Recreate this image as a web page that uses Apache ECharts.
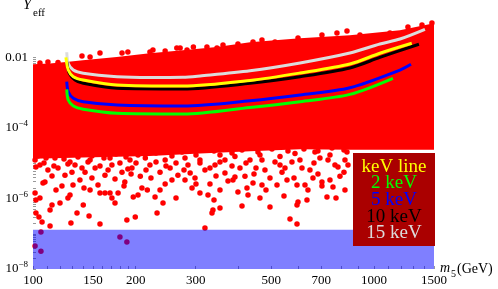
<!DOCTYPE html>
<html><head><meta charset="utf-8">
<script src="https://cdn.jsdelivr.net/npm/echarts@6/dist/echarts.min.js"></script>
<style>html,body{margin:0;padding:0;background:#fff}#c{width:498px;height:289px}</style>
</head><body><div id="c"></div>
<script>
// ---- axes ----
const xMin = 100, xMax = 1500, yMin = 1e-8, yMax = 0.2226;
const xLabelTicks = [100, 150, 200, 300, 500, 700, 1000, 1500];
const xMinorTicks = [110, 120, 130, 140, 160, 170, 180, 190, 400, 600, 800, 900, 1100, 1200, 1300, 1400];
const yLabelTicks = [1e-8, 1e-6, 1e-4, 1e-2];
const yMinorTicks = [];
for (let e = -8; e <= -3; e++) for (let k = 1; k <= 9; k++) yMinorTicks.push(k * Math.pow(10, e));
yMinorTicks.push(1e-2);

// ---- excluded band ----
const bandX = [100, 1500];
const bandLow = 1e-8, bandHigh = 1.3e-7;

// ---- dense scan region (boundary) ----
const denseTop = [[100,0.0064],[112,0.0068],[125,0.0074],[140,0.0084],[176,0.0104],[220,0.0132],[275,0.0160],[346,0.0198],[433,0.0270],[607,0.0350],[850,0.0430],[1192,0.0590],[1500,0.0930]];
const denseBottom = [[1500,2.4e-5],[850,2.4e-5],[607,2.5e-5],[433,2.2e-5],[309,1.9e-5],[220,1.6e-5],[140,1.45e-5],[100,1.35e-5]];

// ---- scan points ----
const edgeDots = [[104.8,0.0070],[110.6,0.0075],[118.4,0.0072],[139.2,0.0110],[147.0,0.0103],[157.2,0.0134],[182.4,0.0134],[189.8,0.0143],[220.3,0.0143],[224.8,0.0163],[244.1,0.0153],[264.1,0.0186],[270.1,0.0186],[282.9,0.0163],[295.4,0.0199],[323.7,0.0199],[346.4,0.0186],[360.8,0.0226],[399.1,0.0242],[441.8,0.0275],[469.4,0.0313],[512.6,0.0275],[598.7,0.0357],[703.9,0.0434],[778.9,0.0495],[833.4,0.0565],[909.9,0.0434],[1114,0.0495],[1258,0.0732],[1383,0.0836],[1479,0.0953]];
const fringeDots = [[101.4,1.24e-5],[116.0,1.41e-5],[128.4,1.09e-5],[147.0,1.24e-5],[168.2,1.41e-5],[192.5,1.24e-5],[213.5,1.41e-5],[244.1,1.24e-5],[279.1,1.41e-5],[308.8,1.24e-5],[353.5,1.71e-5],[391.1,1.56e-5],[463.1,1.71e-5],[530.2,1.56e-5],[586.7,1.89e-5],[671.4,2.08e-5],[743.0,1.71e-5],[833.4,2.08e-5],
[104.8,8.9e-6],[110.6,6.4e-6],[118.4,7.3e-6],[124.1,4.6e-6],[132.8,8.9e-6],[142.1,5.6e-6],[152.1,7.3e-6],[162.6,4.6e-6],[170.4,8.9e-6],[182.4,5.6e-6],[195.1,7.3e-6],[206.4,4.3e-6],[220.3,8.9e-6],[235.8,5.6e-6],[252.4,7.3e-6],[266.1,4.6e-6],[284.8,8.9e-6],[298.6,3.8e-6],[319.4,6.4e-6],[341.8,8.9e-6],[365.6,1.24e-5],[404.6,7.3e-6],[432.9,1.24e-5],[479.0,6.4e-6],[512.6,1.09e-5],[548.3,7.3e-6],[606.7,1.24e-5],[649.1,6.4e-6],[694.4,1.41e-5],[768.5,8.9e-6],[822.2,1.24e-5],
[108.4,2.95e-6],[121.6,2.27e-6],[137.3,3.35e-6],[155.1,2.42e-6],[185.9,2.95e-6],[208.7,1.99e-6],[244.1,2.58e-6],[279.1,3.35e-6],[292.7,1.99e-6],[330.4,2.58e-6],[418.5,4.3e-6],[495.5,3.8e-6],[627.6,2.42e-6],[703.9,2.95e-6],[794.8,4.3e-6]];
const transitionDots = [[103.4,1.61e-5],[109.2,1.41e-5],[116.8,1.71e-5],[123.3,1.32e-5],[135.5,1.5e-5],[148.9,1.61e-5],[161.5,1.41e-5],[175.2,1.83e-5],[187.4,1.5e-5],[203.2,1.71e-5],[229.5,1.95e-5],[255.6,1.61e-5],[273.5,2.08e-5],[300.6,1.71e-5],[339.5,2.23e-5],[383.4,1.95e-5],[410.2,2.38e-5],[456.9,2.08e-5],[502.2,2.54e-5],[559.5,2.23e-5],[623.3,2.54e-5],[685.1,2.23e-5],[753.2,2.71e-5],[816.6,2.38e-5],
[102.0,7.8e-6],[107.7,1.02e-5],[115.2,8.4e-6],[126.6,9.5e-6],[139.2,7.3e-6],[145.0,1.08e-5],[157.2,8.4e-6],[166.0,6.4e-6],[179.9,1.02e-5],[189.8,6.9e-6],[200.5,1.02e-5],[214.5,6.4e-6],[229.5,1.08e-5],[245.5,8.4e-6],[262.7,1.02e-5],[277.2,6.4e-6],[308.8,1.02e-5],[330.4,7.3e-6],[353.5,1.08e-5],[383.4,8.4e-6],[421.4,1.02e-5],[450.8,7.3e-6],[469.4,1.24e-5],[530.2,8.9e-6],[574.8,1.08e-5],[615.0,7.3e-6],[666.9,1.02e-5],[733.2,1.24e-5],[784.3,7.8e-6],[839.1,8.9e-6],
[113.7,4.35e-6],[130.1,5.6e-6],[148.9,3.8e-6],[174.0,3.57e-6],[193.9,4.95e-6],[221.8,3.8e-6],[255.6,3.35e-6],[289.0,5.3e-6],[344.1,4.35e-6],[373.2,3.13e-6],[444.8,4.95e-6],[537.4,5.6e-6],[582.8,3.8e-6],[685.1,4.95e-6],[743.0,3.35e-6],[816.6,5.6e-6],
[116.8,1.74e-6],[128.4,1.26e-6],[141.1,1.99e-6],[170.4,1.03e-6],[184.9,2.26e-6],[203.2,1.26e-6],[235.8,1.74e-6],[262.7,1.03e-6],[300.6,2.58e-6],[339.5,9.05e-7],[399.1,1.53e-6],[482.3,1.74e-6],[544.6,1.18e-6],[640.4,1.74e-6],[703.9,2.26e-6],[773.8,1.03e-6]];
const sparseDots = [[102.0,3.88e-7],[104.1,2.99e-7],[106.3,2.15e-7],[112.2,1.66e-7],[129.2,2.02e-7],[157.2,1.89e-7],[134.6,3.88e-7],[146.0,3.19e-7],[140.4,6.55e-7],[112.2,4.72e-7],[113.7,6.55e-7],[120.0,7.45e-7],[126.6,1.03e-6],[174.0,7.45e-7],[188.5,2.45e-7],[199.5,2.99e-7],[231.1,3.88e-7],[240.6,7.45e-7],[228.0,1.10e-6],[196.8,1.10e-6],[157.2,1.43e-6],[162.6,1.43e-6],[168.2,1.43e-6],[177.6,1.43e-6],[216.4,1.74e-6],[101.4,1.43e-6],[104.8,1.03e-6],[102.0,9.05e-7],[107.0,2.75e-6],[131.0,2.42e-6],[147.0,1.74e-6],
[105.5,1.12e-7],[101.4,4.5e-8],[105.5,3.2e-8],[179.9,8.1e-8],[188.5,5.8e-8],
[319.4,1.46e-7],[337.1,4.72e-7],[334.9,3.88e-7],[353.5,5.38e-7],[410.2,6.12e-7],[463.1,1.03e-6],[495.5,5.74e-7],[424.2,1.99e-6],[427.1,1.26e-6],[567.2,2.62e-7],[594.7,1.89e-7],[598.7,7.96e-7],[594.7,6.55e-7],[636.1,9.05e-7],[728.1,1.10e-6],[822.2,1.74e-6],[758.2,2.12e-6],[308.8,1.43e-6],[326.0,1.26e-6],[353.5,1.74e-6],[441.8,2.75e-6],[469.4,2.42e-6],[519.5,2.42e-6],[555.8,3.35e-6],[662.4,3.8e-6],[594.7,2.42e-6],[385.9,3.35e-6],[365.6,5.3e-6],[391.1,4.1e-6]];

// ---- curves ----
const curve15keV = [[125.6,0.0141],[126.9,0.0068],[131.3,0.0044],[140.4,0.00356],[176.4,0.00285],[220,0.0027],[275,0.00274],[309,0.0030],[433,0.0042],[607,0.0070],[850,0.0134],[1041,0.0242],[1192,0.0335],[1411,0.0631]];
const curveLine = [[124.9,0.0101],[126.9,0.0044],[131.3,0.00285],[140.4,0.0023],[176.4,0.00166],[275,0.00155],[433,0.00223],[607,0.00363],[850,0.00655],[1041,0.0132],[1291,0.0253]];
const curve10keV = [[125.6,0.0076],[127.8,0.00356],[132.8,0.0023],[140.4,0.00185],[176.4,0.00134],[275,0.00128],[433,0.00185],[607,0.00285],[850,0.00504],[1041,0.0101],[1355,0.0237]];
const curve5keV = [[125.6,0.00206],[126.9,0.00107],[131.3,0.000697],[140.4,0.000557],[176.4,0.000449],[276,0.000421],[433,0.000592],[607,0.000863],[850,0.00139],[1192,0.00441],[1284,0.00641]];
const curve2keV = [[125.6,0.00125],[126.9,0.000622],[131.3,0.000421],[140.4,0.00034],[176.4,0.000261],[276,0.000249],[433,0.000382],[607,0.000557],[850,0.0009],[1137,0.00257]];

const legendLabels = ['keV line', '2 keV', '5 keV', '10 keV', '15 keV'];
const legendColors = ['#ffff00', '#00ff00', '#0000ff', '#000000', '#dcdcdc'];

const SERIF = '"Liberation Serif", "DejaVu Serif", serif';
const chart = echarts.init(document.getElementById('c'), null, {renderer: 'canvas'});

function lineSeries(name, data, color) {
  return {name, type: 'line', data, smooth: 0.3, showSymbol: false, symbol: 'none', z: 5,
    lineStyle: {color, width: 3}, silent: true};
}

const legendItems = legendLabels.map((t, i) => ({
  type: 'text', x: 394, y: [166.7, 182.7, 200, 216.7, 233.3][i], z: 101,
  style: {text: t, fill: legendColors[i], font: '19px ' + SERIF, align: 'center', verticalAlign: 'middle'}
}));

chart.setOption({
  animation: false,
  grid: {left: 33, right: 64, top: 10, bottom: 20, containLabel: false},
  xAxis: {type: 'log', logBase: 10, min: xMin, max: xMax,
    axisLine: {show: false}, splitLine: {show: false}, minorTick: {show: false},
    axisTick: {show: true, inside: true, length: 3, lineStyle: {color: '#999'}, customValues: xLabelTicks.concat(xMinorTicks)},
    axisLabel: {customValues: xLabelTicks, margin: 5, color: '#000', fontFamily: SERIF, fontSize: 13,
      formatter: v => String(Math.round(v))}},
  yAxis: {type: 'log', logBase: 10, min: yMin, max: yMax,
    axisLine: {show: false}, splitLine: {show: false}, minorTick: {show: false},
    axisTick: {show: true, inside: true, length: 3, lineStyle: {color: '#999'}, customValues: yMinorTicks},
    axisLabel: {customValues: yLabelTicks, margin: 5, color: '#000', fontFamily: SERIF, fontSize: 13,
      formatter: v => v >= 0.005 ? '{n|0.01}' : '{n|10}{s|−' + Math.round(-Math.log10(v)) + '}',
      rich: {n: {fontFamily: SERIF, fontSize: 13, color: '#000'}, s: {fontFamily: SERIF, fontSize: 9, color: '#000', padding: [0, 0, 8, 0]}}}},
  series: [
    {type: 'custom', z: 1, silent: true, data: [[xMin, 1e-3]],
      renderItem: (params, api) => {
        const pts = denseTop.concat(denseBottom).map(p => api.coord(p));
        return {type: 'polygon', shape: {points: pts}, style: {fill: '#ff0000'}};
      }},
    {type: 'scatter', z: 2, silent: true, symbolSize: 5.5, itemStyle: {color: '#ff0000', opacity: 1},
      data: edgeDots.concat(fringeDots, transitionDots, sparseDots)},
    lineSeries('15 keV', curve15keV, '#dcdcdc'),
    lineSeries('10 keV', curve10keV, '#000000'),
    lineSeries('keV line', curveLine, '#ffff00'),
    lineSeries('5 keV', curve5keV, '#0000ff'),
    lineSeries('2 keV', curve2keV, '#00ff00'),
    {type: 'custom', z: 8, silent: true, data: [[bandX[0], bandLow]],
      renderItem: (params, api) => {
        const a = api.coord([bandX[0], bandLow]);
        const b = api.coord([bandX[1], bandHigh]);
        return {type: 'rect', shape: {x: a[0], y: b[1], width: b[0] - a[0], height: a[1] - b[1]},
          style: {fill: 'rgba(0,0,255,0.5)'}};
      }}
  ],
  graphic: [
    {type: 'rect', x: 353, y: 153, z: 100, shape: {width: 82, height: 93}, style: {fill: '#aa0000'}},
    ...legendItems,
    {type: 'text', x: 23, y: 13, z: 100, style: {text: 'Y', font: 'italic 15px ' + SERIF, fill: '#000', verticalAlign: 'bottom'}},
    {type: 'text', x: 33, y: 19, z: 100, style: {text: 'eff', font: '11px ' + SERIF, fill: '#000', verticalAlign: 'bottom'}},
    {type: 'text', x: 440, y: 275, z: 100, style: {text: 'm', font: 'italic 14px ' + SERIF, fill: '#000', verticalAlign: 'bottom'}},
    {type: 'text', x: 451, y: 279, z: 100, style: {text: '5', font: '10px ' + SERIF, fill: '#000', verticalAlign: 'bottom'}},
    {type: 'text', x: 457, y: 276, z: 100, style: {text: '(GeV)', font: '14px ' + SERIF, fill: '#000', verticalAlign: 'bottom'}}
  ]
});
</script></body></html>
